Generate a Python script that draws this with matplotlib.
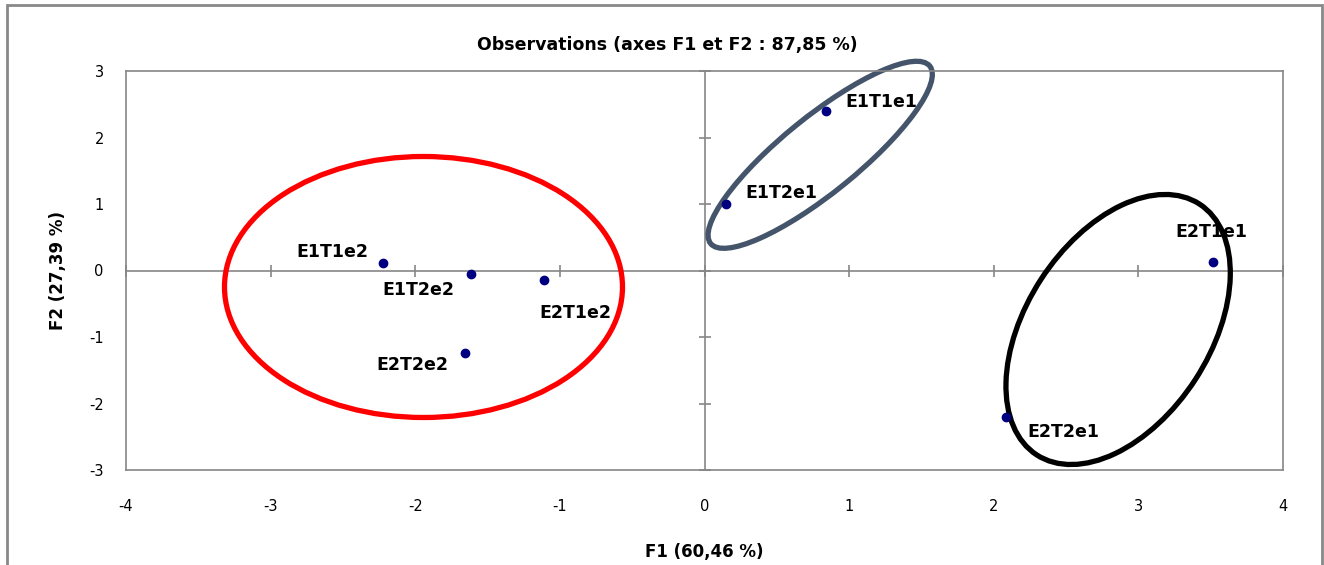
import numpy as np
import matplotlib
matplotlib.use("Agg")
import matplotlib.pyplot as plt
from matplotlib.patches import Ellipse, Rectangle
from matplotlib.transforms import ScaledTranslation

plt.rcParams['font.family'] = ['DejaVu Sans']
plt.rcParams['axes.unicode_minus'] = False

# observations (F1, F2)
names = ["E1T1e2", "E1T2e2", "E2T1e2", "E2T2e2", "E1T1e1", "E1T2e1", "E2T1e1", "E2T2e1"]
f1 = [-2.22, -1.615, -1.112, -1.656, 0.838, 0.149, 3.517, 2.085]
f2 = [0.117, -0.057, -0.148, -1.236, 2.398, 0.995, 0.128, -2.208]
# label offsets (pixels, right / down)
lab_off = [(-51.5, -11), (-52.7, 15.7), (31.8, 32.2), (-52.5, 12.8),
           (55.6, -9.5), (55.7, -11.8), (-1.5, -30), (57, 14.7)]

# hand drawn groups: centre (data), width/height (px), angle, colour
groups = [((-1.943, -0.248), 398, 261, 0, "#FF0000"),
          ((0.80, 1.74), 282, 76, 39, "#44546A"),
          ((2.86, -0.887), 299, 184, 57, "#000000")]

xticks = [-4, -3, -2, -1, 0, 1, 2, 3, 4]
yticks = [-3, -2, -1, 0, 1, 2, 3]

W, H = 1324, 565
fig = plt.figure(figsize=(W / 100, H / 100), dpi=100)
ax = fig.add_axes([126 / W, 1 - 470 / H, (1283 - 126) / W, (470 - 71) / H])
ax.set_xlim(-4, 4)
ax.set_ylim(-3, 3)

grey = "#868686"
for s in ax.spines.values():
    s.set_color(grey)
    s.set_linewidth(1.2)
ax.set_xticks(xticks)
ax.set_yticks(yticks)
ax.tick_params(length=0, labelsize=10.5, colors="black")
ax.tick_params(axis="x", pad=21)
ax.tick_params(axis="y", pad=16)

# zero axes with small cross ticks
ax.axhline(0, color=grey, lw=1.2, zorder=1)
ax.axvline(0, color=grey, lw=1.2, zorder=1)
ax.plot(xticks, [0] * len(xticks), ls="none", marker="|", ms=8, mew=1.2, color=grey, zorder=1, clip_on=False)
ax.plot([0] * len(yticks), yticks, ls="none", marker="_", ms=8, mew=1.2, color=grey, zorder=1, clip_on=False)

ax.plot(f1, f2, ls="none", marker="o", ms=6, color="#000080", zorder=3)
for n, x, y, (dx, dy) in zip(names, f1, f2, lab_off):
    ax.annotate(n, (x, y), xytext=(dx * 0.72, -dy * 0.72), textcoords="offset points",
                ha="center", va="center", fontsize=12.5, fontweight="bold", zorder=4)

for (cx, cy), w, h, ang, c in groups:
    tr = fig.dpi_scale_trans + ScaledTranslation(cx, cy, ax.transData)
    ax.add_patch(Ellipse((0, 0), w / 100, h / 100, angle=ang, transform=tr,
                         fill=False, ec=c, lw=3.8, zorder=2, clip_on=False))

ax.set_title("Observations (axes F1 et F2 : 87,85 %)", fontsize=12.5, fontweight="bold",
             pad=15, x=(667 - 126) / (1283 - 126))
ax.set_xlabel("F1 (60,46 %)", fontsize=12, fontweight="bold", labelpad=21)
ax.set_ylabel("F2 (27,39 %)", fontsize=12, fontweight="bold", labelpad=16)

fig.patches.append(Rectangle((7 / W, -0.05), (1322 - 7) / W, 1.05 - 5 / H, transform=fig.transFigure,
                             fill=False, ec="#898989", lw=2))

plt.savefig("out.png", dpi=100)
